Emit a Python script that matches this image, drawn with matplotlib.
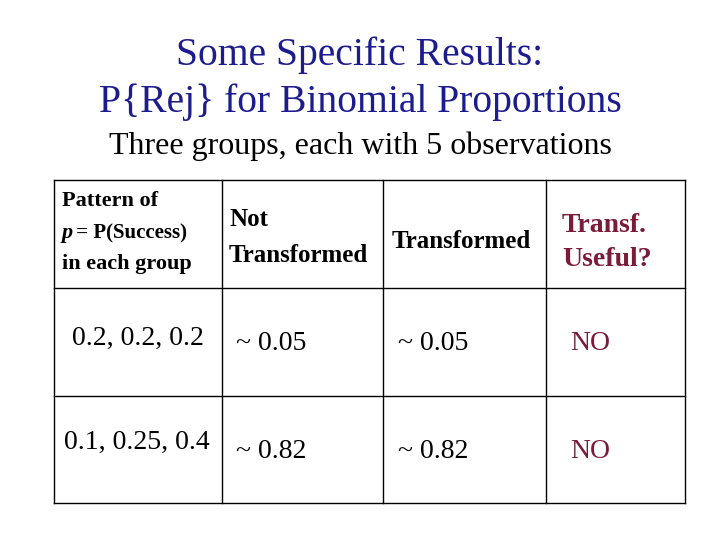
import matplotlib
matplotlib.use("Agg")
import matplotlib.pyplot as plt
from matplotlib.lines import Line2D

title_lines = ["Some Specific Results:", "P{Rej} for Binomial Proportions"]
subtitle = "Three groups, each with 5 observations"
patterns = ["0.2, 0.2, 0.2", "0.1, 0.25, 0.4"]
not_transformed = ["~ 0.05", "~ 0.82"]
transformed = ["~ 0.05", "~ 0.82"]
useful = ["NO", "NO"]

W, H = 720, 540
fig = plt.figure(figsize=(7.2, 5.4), dpi=100)
fig.patch.set_facecolor("white")
serif = "Liberation Serif"
navy = "#1c1c8f"
maroon = "#7a1b3a"

def T(x, y, s, **kw):
    kw.setdefault("family", serif)
    fig.text(x / W, 1 - y / H, s, **kw)

T(360, 55, title_lines[0], ha="center", va="center", fontsize=28.5, color=navy)
T(360, 102, title_lines[1], ha="center", va="center", fontsize=28.5, color=navy)
T(360, 146, subtitle, ha="center", va="center", fontsize=23, color="black")

def L(x0, y0, x1, y1):
    fig.add_artist(Line2D([x0 / W, x1 / W], [1 - y0 / H, 1 - y1 / H], color="black", lw=1))

xs = [54, 222, 383, 546, 685]
ys = [180, 288, 396, 503]
for x in xs:
    L(x, ys[0], x, ys[-1])
for y in ys:
    L(xs[0], y, xs[-1], y)

b = dict(fontsize=16, fontweight="bold", va="center", ha="left")
T(62, 201, "Pattern of", **b)
T(62, 233, "p", fontstyle="italic", **b)
T(71, 233, " = P(Success)", **{**b, "fontsize": 15})
T(62, 264, "in each group", **b)
T(229, 220, "Not", **{**b, "fontsize": 18})
T(229, 256, "Transformed", **{**b, "fontsize": 18})
T(392, 241, "Transformed", **{**b, "fontsize": 18})
T(562, 226, "Transf.", color=maroon, **{**b, "fontsize": 20})
T(562, 260, "Useful?", color=maroon, **{**b, "fontsize": 20})

rows_y = [(338, 344), (442, 451)]
for i, (ya, yb) in enumerate(rows_y):
    T(72 if i == 0 else 64, ya, patterns[i], fontsize=20, va="center")
    T(236, yb, not_transformed[i], fontsize=20, va="center")
    T(398, yb, transformed[i], fontsize=20, va="center")
    T(570, yb, useful[i], fontsize=20, va="center", color=maroon)

fig.savefig("out.png", dpi=100)
